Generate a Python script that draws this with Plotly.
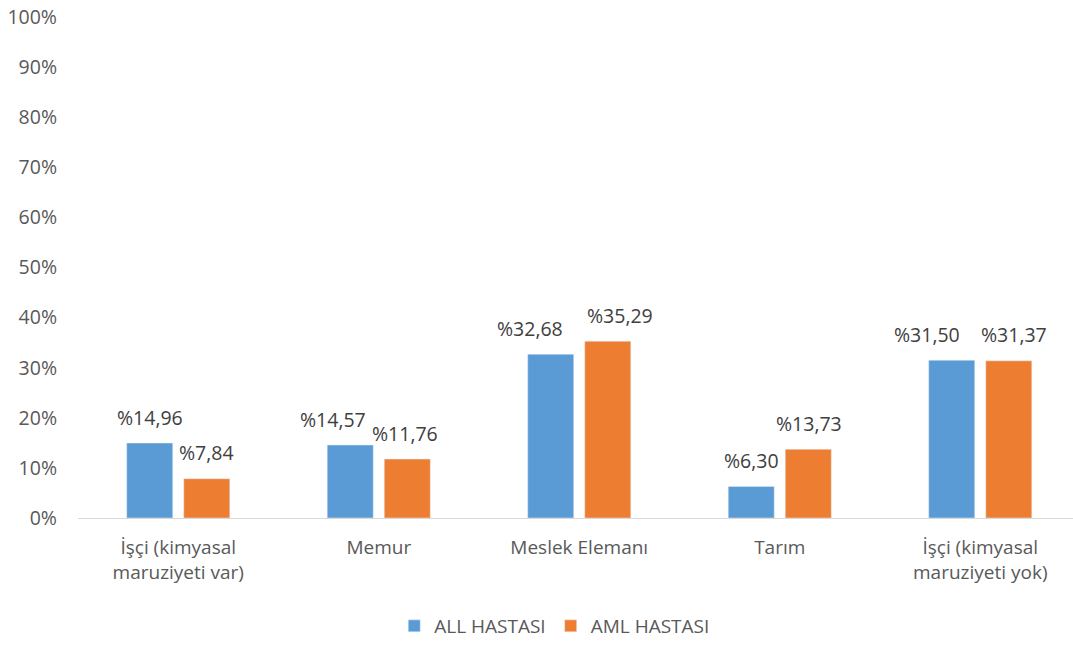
import plotly.graph_objects as go

categories = ["İşçi (kimyasal<br>maruziyeti var)", "Memur", "Meslek Elemanı", "Tarım", "İşçi (kimyasal<br>maruziyeti yok)"]
all_values = [14.96, 14.57, 32.68, 6.30, 31.50]
aml_values = [7.84, 11.76, 35.29, 13.73, 31.37]
series_names = ["ALL HASTASI", "AML HASTASI"]
y_ticks = [0, 10, 20, 30, 40, 50, 60, 70, 80, 90, 100]

# label placement (pixel shifts from category centre), as in the original
all_label_dx = [-28, -46, -49, -28, -53]
aml_label_dx = [28, 26, 41, 29, 34]

def lab(v):
    return "%" + f"{v:.2f}".replace(".", ",")

FONT = "Open Sans, Lato, sans-serif"
GREY = "#595959"
COLORS = ["#5B9BD5", "#ED7D31"]

fig = go.Figure()
fig.add_trace(go.Bar(x=categories, y=all_values, name=series_names[0], marker_color=COLORS[0]))
fig.add_trace(go.Bar(x=categories, y=aml_values, name=series_names[1], marker_color=COLORS[1]))

for vals, dxs in ((all_values, all_label_dx), (aml_values, aml_label_dx)):
    for c, v, dx in zip(categories, vals, dxs):
        fig.add_annotation(x=c, y=v, xref="x", yref="y", text=lab(v), showarrow=False,
                           xshift=dx, yshift=26, yanchor="middle", xanchor="center",
                           font=dict(size=19.5, color="#404040", family=FONT))

fig.update_layout(
    width=1073, height=645,
    margin=dict(l=78, r=0, t=17, b=127),
    paper_bgcolor="white", plot_bgcolor="white",
    barmode="group", bargap=0.431, bargroupgap=0.193,
    font=dict(family=FONT, size=19, color=GREY),
    showlegend=True,
    legend=dict(orientation="h", xref="container", yref="container", x=0.517, y=0.0,
                xanchor="center", yanchor="bottom", font=dict(size=19, color=GREY),
                itemwidth=30, tracegroupgap=0),
)
fig.update_xaxes(range=[-0.5, 4.4626], showgrid=False, showline=True, linecolor="#D9D9D9",
                 linewidth=1, ticks="", tickfont=dict(size=19, color=GREY, family=FONT),
                 ticklabelstandoff=12)
fig.update_yaxes(range=[0, 100], tickvals=y_ticks, ticktext=[f"{t}%" for t in y_ticks],
                 showgrid=False, zeroline=False, showline=False, ticks="",
                 tickfont=dict(size=19.5, color=GREY, family=FONT), ticklabelstandoff=20)

fig.write_html("out.html")
